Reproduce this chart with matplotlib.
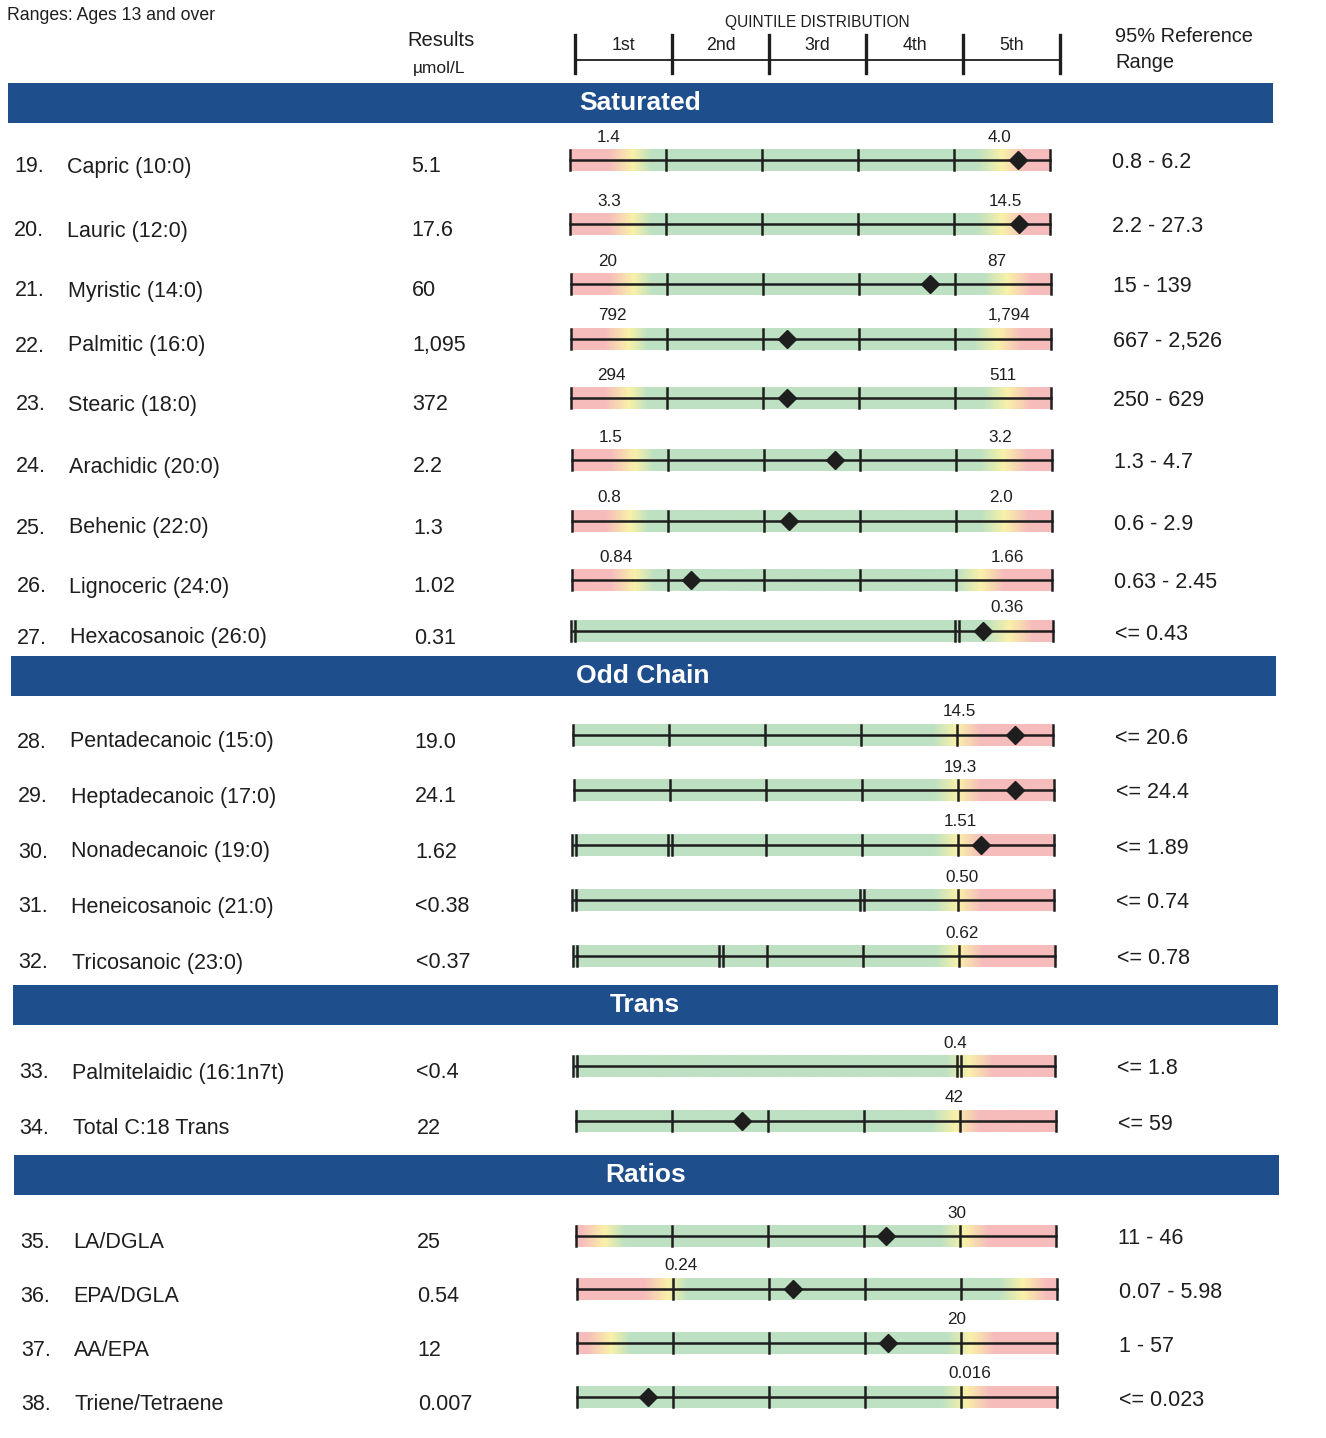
import numpy as np
import matplotlib.pyplot as plt
from matplotlib.colors import to_rgb

plt.rcParams['font.family'] = ['Liberation Sans', 'DejaVu Sans']

# ---- data ----
row_num = list(range(19, 39))
names = ["Capric (10:0)", "Lauric (12:0)", "Myristic (14:0)", "Palmitic (16:0)",
         "Stearic (18:0)", "Arachidic (20:0)", "Behenic (22:0)", "Lignoceric (24:0)",
         "Hexacosanoic (26:0)", "Pentadecanoic (15:0)", "Heptadecanoic (17:0)",
         "Nonadecanoic (19:0)", "Heneicosanoic (21:0)", "Tricosanoic (23:0)",
         "Palmitelaidic (16:1n7t)", "Total C:18 Trans", "LA/DGLA", "EPA/DGLA",
         "AA/EPA", "Triene/Tetraene"]
results = ["5.1", "17.6", "60", "1,095", "372", "2.2", "1.3", "1.02", "0.31",
           "19.0", "24.1", "1.62", "<0.38", "<0.37", "<0.4", "22", "25", "0.54",
           "12", "0.007"]
ref_range = ["0.8 - 6.2", "2.2 - 27.3", "15 - 139", "667 - 2,526", "250 - 629",
             "1.3 - 4.7", "0.6 - 2.9", "0.63 - 2.45", "<= 0.43", "<= 20.6",
             "<= 24.4", "<= 1.89", "<= 0.74", "<= 0.78", "<= 1.8", "<= 59",
             "11 - 46", "0.07 - 5.98", "1 - 57", "<= 0.023"]
low_label = ["1.4", "3.3", "20", "792", "294", "1.5", "0.8", "0.84", "", "", "", "",
             "", "", "", "", "", "0.24", "", ""]
low_label_q = [0.40, 0.40, 0.38, 0.43, 0.42, 0.40, 0.39, 0.45, None, None, None, None,
               None, None, None, None, None, 1.09, None, None]
high_label = ["4.0", "14.5", "87", "1,794", "511", "3.2", "2.0", "1.66", "0.36", "14.5",
              "19.3", "1.51", "0.50", "0.62", "0.4", "42", "30", "", "20", "0.016"]
high_label_q = [4.47, 4.53, 4.44, 4.56, 4.49, 4.46, 4.47, 4.53, 4.52, 4.02, 4.03, 4.02,
                4.04, 4.04, 3.96, 3.94, 3.96, None, 3.96, 4.09]
# patient result position on the quintile scale (0-5)
marker_q = [4.67, 4.67, 3.74, 2.25, 2.25, 2.74, 2.26, 1.24, 4.27, 4.60, 4.60, 4.24,
            None, None, None, 1.73, 3.23, 2.25, 3.24, 0.74]
# quintiles merged below detection limit (double tick)
merged_q = [None] * 8 + [4, None, None, 1, 3, 1.52, 4] + [None] * 5
# green (normal) zone on the quintile scale
green_from = [0.85, 0.85, 0.85, 0.80, 0.80, 0.85, 0.80, 0.85, 0, 0, 0, 0, 0, 0, 0, 0,
              0.50, 1.15, 0.55, 0]
green_to = [4.25, 4.25, 4.30, 4.20, 4.30, 4.25, 4.25, 4.00, 4.30, 3.75, 3.75, 3.75,
            3.75, 3.75, 3.85, 3.70, 3.80, 4.40, 3.85, 3.80]

sections = ["Saturated", "Odd Chain", "Trans", "Ratios"]
section_rows = [9, 5, 2, 4]
quintiles = ["1st", "2nd", "3rd", "4th", "5th"]

# ---- layout (pixels) ----
W, H = 1326, 1438
row_y = [160, 224, 284, 339, 398, 460, 521, 580, 631,
         735, 790, 845, 900, 956, 1066, 1121, 1236, 1289, 1343, 1397]
band_y = [103, 676, 1005, 1175]
BAR_X0, QW = 570, 96
BAR_H = 22
INK = '#1e1e1e'


def skew(y):
    # the scan is slightly rotated
    return (y - 160) * 0.0058


RED = np.array(to_rgb('#f6bcbc'))
YEL = np.array(to_rgb('#f9f1a8'))
GRN = np.array(to_rgb('#bde1c2'))


def band_colors(lo, hi, n=600):
    q = np.linspace(0, 5, n)
    stops = []
    if lo > 0:
        stops += [(0, RED), (max(lo - 0.45, 0.01), RED), (lo - 0.2, YEL), (lo, GRN)]
    else:
        stops += [(0, GRN)]
    if hi < 5:
        stops += [(hi, GRN), (hi + 0.25, YEL), (min(hi + 0.5, 4.99), RED), (5, RED)]
    else:
        stops += [(5, GRN)]
    xp = [s[0] for s in stops]
    img = np.stack([np.interp(q, xp, [s[1][c] for s in stops]) for c in range(3)], axis=-1)
    return img[None, :, :]


fig = plt.figure(figsize=(W / 100, H / 100), dpi=100)
ax = fig.add_axes([0, 0, 1, 1])

# header
ax.text(7, 15, "Ranges: Ages 13 and over", fontsize=12.7, va='center', ha='left', color=INK)
ax.text(441, 41, "Results", fontsize=14.5, va='center', ha='center', color=INK)
ax.text(439, 68, "µmol/L", fontsize=12.5, va='center', ha='center', color=INK)
ax.text(1115, 36, "95% Reference", fontsize=14.4, va='center', ha='left', color=INK)
ax.text(1115, 63, "Range", fontsize=14.4, va='center', ha='left', color=INK)
hx0, hw = 575, 97
ax.text(hx0 + 2.5 * hw, 22, "QUINTILE DISTRIBUTION", fontsize=11.2, va='center', ha='center', color=INK)
ax.plot([hx0, hx0 + 5 * hw], [60, 60], color=INK, lw=1.3)
for k in range(6):
    ax.plot([hx0 + k * hw] * 2, [35, 73], color=INK, lw=2.4)
for k, lab in enumerate(quintiles):
    ax.text(hx0 + (k + 0.5) * hw, 45, lab, fontsize=12.8, va='center', ha='center', color=INK)

# section bands
for name, by in zip(sections, band_y):
    off = skew(by)
    ax.add_patch(plt.Rectangle((8 + off, by - 20), 1265, 40, color='#1f4e8d', lw=0))
    ax.text(640 + off, by, name, fontsize=19, fontweight='bold', color='white',
            va='center', ha='center')

# rows
for i in range(len(names)):
    y = row_y[i]
    off = skew(y)
    x0 = BAR_X0 + off
    xq = lambda q: x0 + q * QW

    ax.text(14 + off, y + 7, f"{row_num[i]}.", fontsize=15.5, va='center', ha='left', color=INK)
    ax.text(67 + off, y + 7, names[i], fontsize=15.5, va='center', ha='left', color=INK)
    ax.text(411 + off, y + 7, results[i], fontsize=15.5, va='center', ha='left', color=INK)
    ax.text(1112 + off, y + 3, ref_range[i], fontsize=15.5, va='center', ha='left', color=INK)

    ax.imshow(band_colors(green_from[i], green_to[i]), extent=(xq(0), xq(5), y + BAR_H / 2, y - BAR_H / 2),
              aspect='auto', interpolation='bilinear', zorder=1)
    ax.plot([xq(0), xq(5)], [y, y], color=INK, lw=1.8, zorder=2)

    m = merged_q[i]
    if m is None:
        singles = list(range(6))
    else:
        singles = [k for k in range(6) if k > m]
        for pos in (0, m):
            for dx in (-2, 2):
                ax.plot([xq(pos) + dx] * 2, [y - 10, y + 10], color=INK, lw=1.8, zorder=2)
    for k in singles:
        ax.plot([xq(k)] * 2, [y - 10, y + 10], color=INK, lw=1.8, zorder=2)

    if low_label[i]:
        ax.text(xq(low_label_q[i]), y - 23, low_label[i], fontsize=12.3, va='center', ha='center', color=INK)
    if high_label[i]:
        ax.text(xq(high_label_q[i]), y - 23, high_label[i], fontsize=12.3, va='center', ha='center', color=INK)
    if marker_q[i] is not None:
        ax.plot([xq(marker_q[i])], [y], marker='D', markersize=9.5, color=INK, zorder=3)

ax.set_xlim(0, W)
ax.set_ylim(H, 0)
ax.axis('off')
fig.savefig("out.png", dpi=100, facecolor='white')
